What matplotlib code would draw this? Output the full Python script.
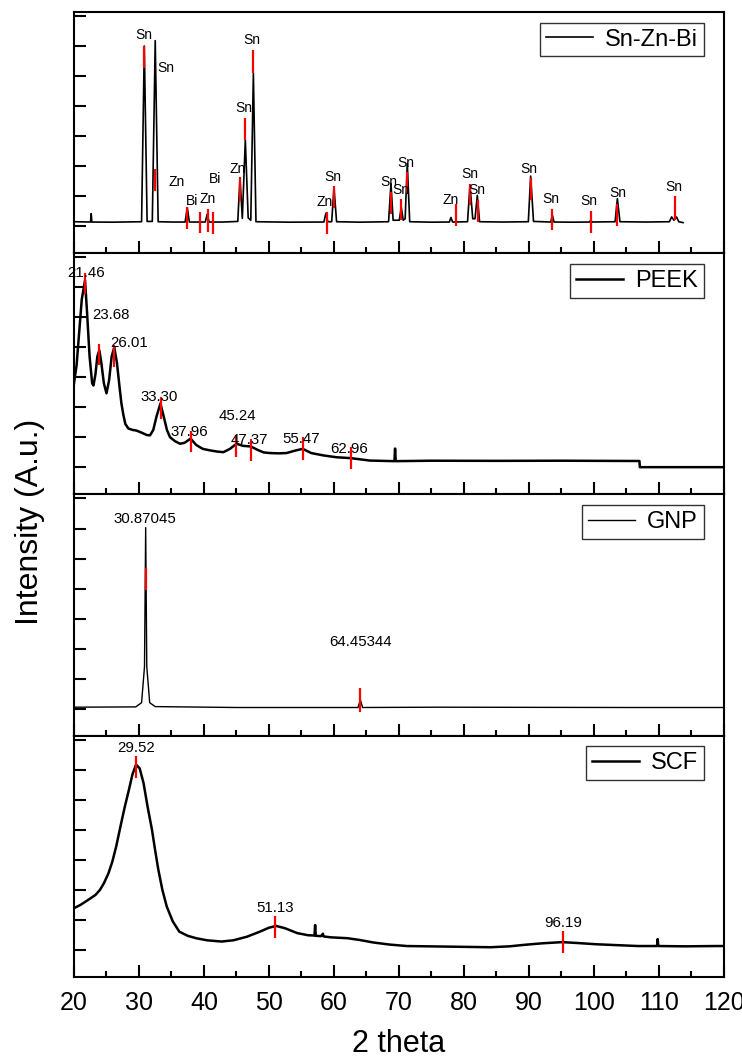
import matplotlib
matplotlib.use("Agg")
import matplotlib.pyplot as plt
from matplotlib.ticker import MultipleLocator

plt.rcParams['font.family'] = ['Liberation Sans', 'DejaVu Sans']

# --- Sn-Zn-Bi ---
snznbi_x = [20.0, 22.55, 22.65, 22.75, 26.0, 30.4, 30.82, 31.25, 32.05, 32.5, 32.95, 35.0, 37.1, 37.43, 37.75,
            40.2, 40.5, 40.8, 43.0, 45.2, 45.54, 45.9, 46.36, 46.8, 47.2, 47.6, 48.0, 53.0, 58.45, 58.75, 59.05,
            59.65, 60.0, 60.4, 64.0, 68.4, 68.77, 69.1, 70.05, 70.35, 70.65, 70.95, 71.28, 71.65, 75.0, 77.75,
            78.0, 78.25, 80.55, 80.92, 81.35, 81.7, 82.05, 82.4, 86.0, 89.9, 90.26, 90.7, 93.35, 93.6, 93.85,
            96.5, 99.3, 99.5, 99.7, 103.25, 103.6, 104.0, 108.0, 111.6, 111.95, 112.3, 112.7, 113.05, 113.7]
snznbi_y = [150, 140, 420, 140, 135, 150, 6000, 160, 160, 6180, 150, 140, 140, 620, 140,
            140, 400, 140, 140, 160, 1620, 260, 2870, 280, 200, 5090, 150, 135, 140, 430, 150,
            150, 1300, 150, 135, 150, 1420, 200, 200, 640, 200, 250, 2090, 150, 135, 140,
            290, 140, 150, 1370, 250, 250, 1030, 150, 140, 150, 1670, 160, 140, 370, 140,
            135, 140, 200, 140, 150, 920, 150, 140, 150, 310, 200, 310, 150, 120]
snznbi_mark_x = [30.82, 32.5, 37.43, 39.38, 40.67, 41.33, 45.54, 46.36, 47.6, 58.87, 60.0, 68.77, 70.26,
                 71.28, 78.77, 80.92, 82.1, 90.26, 93.6, 99.5, 103.6, 112.5]
snznbi_mark_lo = [5260, 1180, -100, -240, -190, -270, 840, 2870, 5110, -270, 600, 420, 200,
                  1090, 0, 700, 140, 870, -130, -240, 0, 220]
snznbi_mark_hi = [6000, 1890, 630, 480, 560, 480, 1620, 3610, 5870, 460, 1330, 1140, 920,
                  1810, 730, 1420, 870, 1590, 590, 500, 730, 1000]
snznbi_lab = ["Sn", "Sn", "Zn", "Bi", "Zn", "Bi", "Zn", "Sn", "Sn", "Zn", "Sn", "Sn", "Sn", "Sn",
              "Zn", "Sn", "Sn", "Sn", "Sn", "Sn", "Sn", "Sn"]
snznbi_lab_x = [30.82, 34.1, 35.8, 38.1, 40.5, 41.7, 45.2, 46.15, 47.3, 58.6, 59.8, 68.5, 70.26, 71.1,
                77.95, 80.92, 82.05, 90.0, 93.33, 99.28, 103.6, 112.3]
snznbi_lab_y = [6370, 5260, 1460, 840, 900, 1560, 1920, 3940, 6200, 800, 1630, 1480, 1220, 2110,
                890, 1730, 1200, 1900, 920, 830, 1090, 1310]

# --- PEEK ---
peek_x = [20.0, 20.4, 20.8, 21.2, 21.7, 22.0, 22.4, 22.8, 23.0, 23.3, 23.6, 23.9, 24.2, 24.6, 25.0, 25.4,
          25.8, 26.2, 26.6, 27.0, 27.3, 27.6, 27.9, 28.36, 29.0, 29.6, 30.5, 31.2, 31.7, 32.2, 32.7, 33.3,
          33.8, 34.3, 34.77, 35.5, 36.3, 37.0, 37.95, 38.8, 39.8, 40.9, 42.0, 43.0, 44.0, 45.0, 46.0, 47.2,
          48.3, 49.2, 50.15, 51.5, 52.7, 54.0, 55.2, 56.5, 58.4, 60.4, 62.6, 65.5, 69.3, 69.4, 69.5, 75.0,
          85.0, 95.0, 107.0, 107.05, 120.0]
peek_y = [2800, 3400, 4500, 5600, 6230, 5200, 3700, 2800, 2730, 3100, 3700, 3900, 3500, 2800, 2470, 2900,
          3700, 4000, 3500, 2700, 2130, 1750, 1450, 1300, 1250, 1230, 1150, 1080, 1070, 1250, 1700, 2130,
          1700, 1250, 1010, 880, 790, 820, 960, 750, 620, 570, 530, 510, 620, 790, 720, 700,
          580, 500, 480, 470, 480, 560, 620, 480, 400, 340, 310, 230, 210, 630, 210, 225,
          220, 225, 215, 10, 10]
peek_mark_x = [21.69, 23.9, 26.2, 33.33, 37.95, 45.0, 47.2, 55.2, 62.6]
peek_mark_lo = [5790, 3400, 3340, 1620, 510, 340, 230, 260, -40]
peek_mark_hi = [6480, 4120, 4070, 2340, 1230, 1070, 960, 1010, 680]
peek_lab = ["21.46", "23.68", "26.01", "33.30", "37.96", "45.24", "47.37", "55.47", "62.96"]
peek_lab_x = [21.82, 25.65, 28.49, 33.13, 37.69, 45.15, 46.95, 54.92, 62.36]
peek_lab_y = [6470, 5070, 4140, 2330, 1190, 1700, 920, 960, 620]

# --- GNP ---
gnp_x = [20.0, 29.5, 30.4, 30.85, 31.03, 31.2, 31.65, 32.5, 45.0, 63.7, 64.06, 64.4, 76.0, 105.0, 120.0]
gnp_y = [50, 60, 200, 1400, 6030, 1400, 200, 70, 40, 40, 300, 40, 50, 40, 40]
gnp_mark_x = [31.03, 64.06]
gnp_mark_lo = [3940, -100]
gnp_mark_hi = [4690, 700]
gnp_lab = ["30.87045", "64.45344"]
gnp_lab_x = [30.92, 64.06]
gnp_lab_y = [6330, 2220]

# --- SCF ---
scf_x = [20.0, 21.0, 22.0, 23.3, 24.0, 24.6, 25.3, 25.9, 26.5, 27.15, 27.8, 28.45, 29.0, 29.55, 30.1,
         30.7, 31.3, 32.0, 32.5, 32.98, 33.6, 34.28, 35.2, 36.2, 37.5, 38.8, 40.5, 42.7, 44.5, 46.6,
         48.5, 50.0, 51.1, 52.5, 54.35, 56.0, 57.0, 57.1, 57.2, 58.0, 58.3, 58.4, 59.5, 62.1, 64.0,
         66.0, 68.5, 71.2, 77.7, 84.1, 87.0, 89.3, 92.0, 95.1, 97.5, 100.3, 103.5, 106.8, 109.7, 109.8,
         109.9, 114.0, 118.8, 120.0]
scf_y = [1390, 1500, 1640, 1830, 2000, 2220, 2550, 2940, 3450, 4110, 4750, 5330, 5850, 6170, 6050,
         5560, 4800, 4000, 3300, 2670, 2000, 1440, 950, 610, 470, 390, 320, 280, 320, 440,
         600, 740, 800, 720, 560, 490, 480, 830, 470, 460, 540, 450, 420, 390, 330,
         250, 180, 130, 110, 90, 120, 170, 220, 260, 230, 190, 160, 130, 130, 360,
         130, 120, 130, 130]
scf_mark_x = [29.6, 50.92, 95.28]
scf_mark_lo = [5720, 390, -110]
scf_mark_hi = [6470, 1130, 630]
scf_lab = ["29.52", "51.13", "96.19"]
scf_lab_x = [29.6, 50.92, 95.34]
scf_lab_y = [6720, 1390, 910]

names = ["Sn-Zn-Bi", "PEEK", "GNP", "SCF"]
curves = [(snznbi_x, snznbi_y), (peek_x, peek_y), (gnp_x, gnp_y), (scf_x, scf_y)]
marks = [(snznbi_mark_x, snznbi_mark_lo, snznbi_mark_hi), (peek_mark_x, peek_mark_lo, peek_mark_hi),
         (gnp_mark_x, gnp_mark_lo, gnp_mark_hi), (scf_mark_x, scf_mark_lo, scf_mark_hi)]
labels = [(snznbi_lab, snznbi_lab_x, snznbi_lab_y), (peek_lab, peek_lab_x, peek_lab_y),
          (gnp_lab, gnp_lab_x, gnp_lab_y), (scf_lab, scf_lab_x, scf_lab_y)]
line_w = [1.2, 1.8, 1.0, 1.8]
lab_size = [10, 10.8, 10.8, 10.8]

fig, axes = plt.subplots(4, 1, sharex=True, figsize=(7.42, 10.64), dpi=100)
fig.subplots_adjust(left=0.0997, right=0.9757, bottom=0.0818, top=0.9887, hspace=0)

for i, ax in enumerate(axes):
    ax.plot(curves[i][0], curves[i][1], color='black', lw=line_w[i], label=names[i])
    ax.vlines(marks[i][0], marks[i][1], marks[i][2], color='red', lw=1.6, zorder=3)
    for t, lx, ly in zip(*labels[i]):
        ax.text(lx, ly, t, ha='center', va='center', fontsize=lab_size[i])
    ax.set_xlim(20, 120)
    ax.set_ylim(-900, 7133)
    ax.yaxis.set_major_locator(MultipleLocator(1000))
    ax.xaxis.set_major_locator(MultipleLocator(10))
    ax.xaxis.set_minor_locator(MultipleLocator(5))
    ax.tick_params(which='both', direction='in', width=1.5, top=False, right=False, labelleft=False,
                   labelsize=18, pad=10)
    ax.tick_params(which='major', length=8.4)
    ax.tick_params(which='minor', length=4.3)
    for s in ax.spines.values():
        s.set_linewidth(1.5)
    leg = ax.legend(loc='upper right', bbox_to_anchor=(0.985, 1), fontsize=17, frameon=True,
                    fancybox=False, framealpha=1, edgecolor='#333333', borderpad=0.25,
                    handlelength=2.0, handletextpad=0.5, borderaxespad=0.45)
    leg.get_frame().set_linewidth(1.0)

axes[-1].set_xlabel('2 theta', fontsize=22, labelpad=10)
fig.text(30 / 742, 1 - 522 / 1064, 'Intensity (A.u.)', rotation=90, ha='center', va='center', fontsize=23)

plt.savefig('out.png', dpi=100)
